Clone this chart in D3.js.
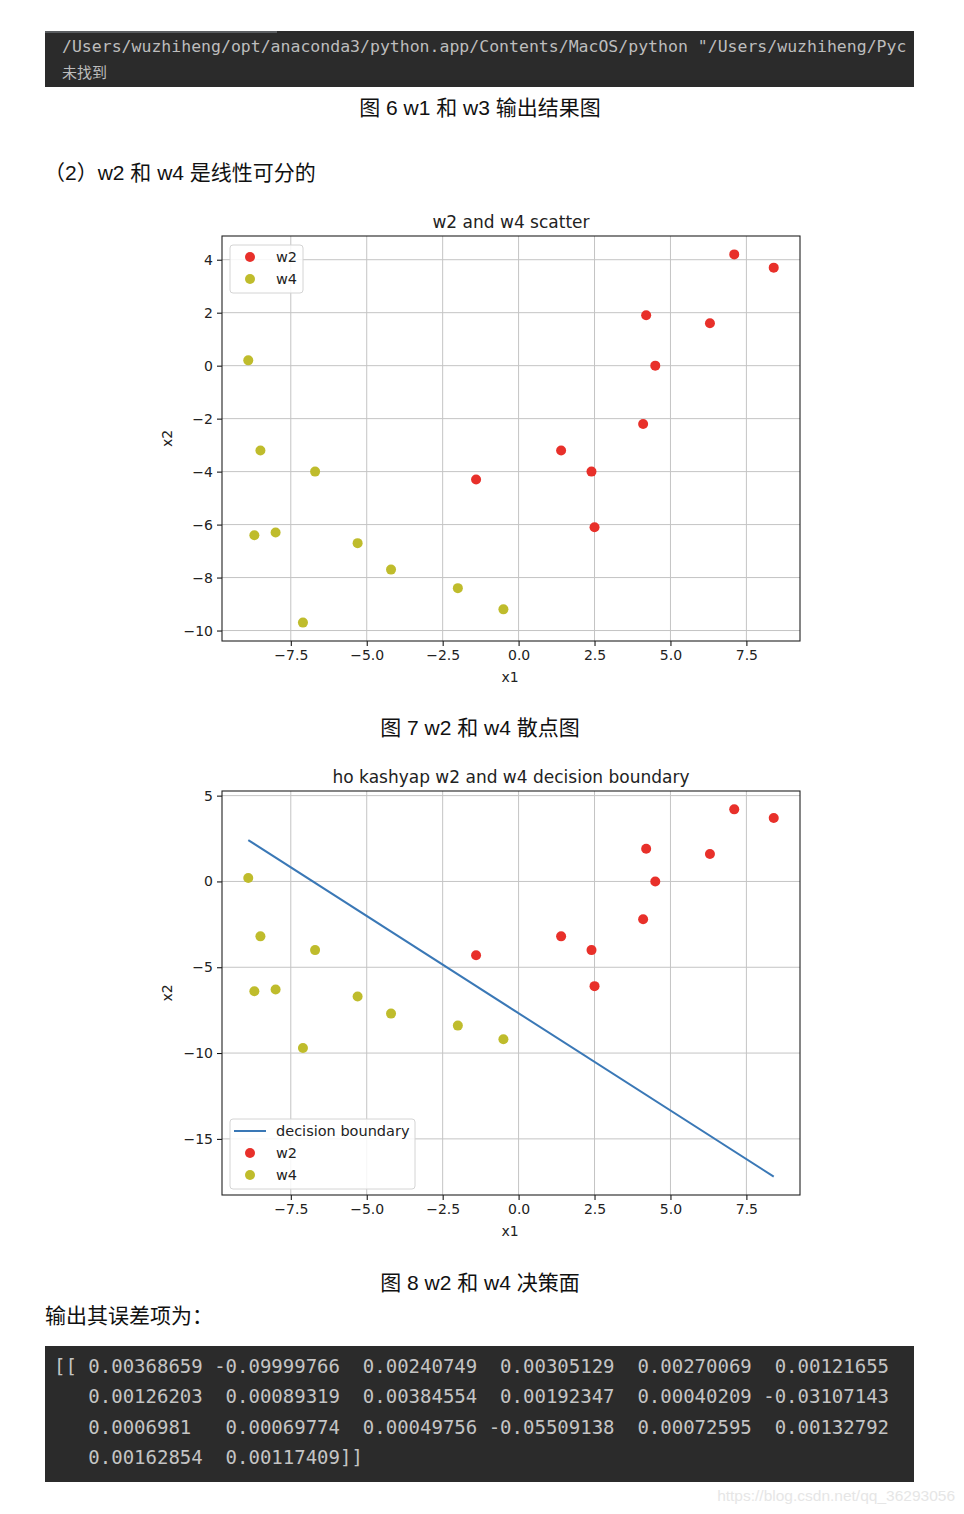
<!DOCTYPE html>
<html>
<head>
<meta charset="utf-8">
<script src="https://cdn.jsdelivr.net/npm/d3@7"></script>
<style>
  body { margin: 0; background: #fff; }
  svg { display: block; }
</style>
</head>
<body>
<script>
// w2 / w4 sample points (x1, x2)
const w2X = [7.1, -1.4, 4.5, 6.3, 4.2, 1.4, 2.4, 2.5, 8.4, 4.1];
const w2Y = [4.2, -4.3, 0.0, 1.6, 1.9, -3.2, -4.0, -6.1, 3.7, -2.2];
const w4X = [-2.0, -8.9, -4.2, -8.5, -6.7, -0.5, -5.3, -8.7, -7.1, -8.0];
const w4Y = [-8.4, 0.2, -7.7, -3.2, -4.0, -9.2, -6.7, -6.4, -9.7, -6.3];
// decision boundary end points
const boundaryX = [-8.9, 8.4];
const boundaryY = [2.41, -17.2];

const xTicks = [-7.5, -5.0, -2.5, 0.0, 2.5, 5.0, 7.5];
const yTicks1 = [-10, -8, -6, -4, -2, 0, 2, 4];
const yTicks2 = [-15, -10, -5, 0, 5];

const errLines = [
  "[[ 0.00368659 -0.09999766  0.00240749  0.00305129  0.00270069  0.00121655",
  "   0.00126203  0.00089319  0.00384554  0.00192347  0.00040209 -0.03107143",
  "   0.0006981   0.00069774  0.00049756 -0.05509138  0.00072595  0.00132792",
  "   0.00162854  0.00117409]]"
];

const RED = "#e8302a", OLIVE = "#bfbc2c", BLUE = "#3a78b6";
const cjk = "'Liberation Sans', 'Noto Sans CJK SC', sans-serif";
const mono = "'DejaVu Sans Mono', 'Liberation Mono', monospace";
const mpl = "'DejaVu Sans', sans-serif";

const svg = d3.select("body").append("svg")
    .attr("width", 964)
    .attr("height", 1514);

// top console block
svg.append("rect").attr("x", 45).attr("y", 31).attr("width", 869).attr("height", 56).attr("fill", "#2b2b2b");
svg.append("rect").attr("x", 45).attr("y", 31).attr("width", 232).attr("height", 2).attr("fill", "#5a5d60");
svg.append("text").attr("x", 62).attr("y", 52)
    .style("font-family", mono).style("font-size", "16.5px").attr("fill", "#bdbdbd")
    .attr("xml:space", "preserve")
    .text('/Users/wuzhiheng/opt/anaconda3/python.app/Contents/MacOS/python "/Users/wuzhiheng/Pyc');
svg.append("text").attr("x", 62).attr("y", 78)
    .style("font-family", "'Noto Sans CJK SC', sans-serif").style("font-size", "15px").attr("fill", "#bdbdbd")
    .text("未找到");

function caption(txt, x, y, anchor) {
  svg.append("text").attr("x", x).attr("y", y)
     .attr("text-anchor", anchor)
     .style("font-family", cjk).style("font-size", "21px").attr("fill", "#111")
     .text(txt);
}
caption("图 6 w1 和 w3 输出结果图", 480, 115, "middle");
caption("（2）w2 和 w4 是线性可分的", 44, 180, "start");
caption("图 7 w2 和 w4 散点图", 480, 735, "middle");
caption("图 8 w2 和 w4 决策面", 480, 1290, "middle");
caption("输出其误差项为：", 45, 1323, "start");

// shared x scale (5% margins like matplotlib)
const allX = w2X.concat(w4X);
function padded(lo, hi) {
  const r = hi - lo;
  return [lo - 0.05 * r, hi + 0.05 * r];
}
const fmtMinus = s => s.replace("-", "\u2212");

function drawChart(cfg) {
  const left = 222, right = 800;
  const x = d3.scaleLinear().domain(padded(d3.min(allX), d3.max(allX))).range([left, right]);
  const y = d3.scaleLinear().domain(cfg.yDomain).range([cfg.bottom, cfg.top]);
  const g = svg.append("g");

  // grid
  g.selectAll(".gx").data(xTicks).join("line")
    .attr("x1", d => x(d)).attr("x2", d => x(d))
    .attr("y1", cfg.top).attr("y2", cfg.bottom)
    .attr("stroke", "#c4c4c4").attr("stroke-width", 1);
  g.selectAll(".gy").data(cfg.yTicks).join("line")
    .attr("x1", left).attr("x2", right)
    .attr("y1", d => y(d)).attr("y2", d => y(d))
    .attr("stroke", "#c4c4c4").attr("stroke-width", 1);

  // axes
  g.append("g").attr("transform", `translate(0,${cfg.bottom})`)
    .call(d3.axisBottom(x).tickValues(xTicks).tickSize(5).tickPadding(4)
      .tickFormat(d => fmtMinus(d3.format(".1f")(d))))
    .call(a => a.select(".domain").remove())
    .call(a => a.selectAll("text").style("font-family", mpl).style("font-size", "14px").attr("fill", "#222"));
  g.append("g").attr("transform", `translate(${left},0)`)
    .call(d3.axisLeft(y).tickValues(cfg.yTicks).tickSize(5).tickPadding(4)
      .tickFormat(d => fmtMinus(d3.format("d")(d))))
    .call(a => a.select(".domain").remove())
    .call(a => a.selectAll("text").style("font-family", mpl).style("font-size", "14px").attr("fill", "#222"));

  g.append("rect").attr("x", left).attr("y", cfg.top)
    .attr("width", right - left).attr("height", cfg.bottom - cfg.top)
    .attr("fill", "none").attr("stroke", "#222").attr("stroke-width", 1.1);

  // labels
  g.append("text").attr("x", (left + right) / 2).attr("y", cfg.top - 8)
    .attr("text-anchor", "middle").style("font-family", mpl).style("font-size", "17px").attr("fill", "#222")
    .text(cfg.title);
  g.append("text").attr("x", (left + right) / 2 - 1).attr("y", cfg.bottom + 41)
    .attr("text-anchor", "middle").style("font-family", mpl).style("font-size", "14px").attr("fill", "#222")
    .text("x1");
  g.append("text")
    .attr("transform", `translate(172,${(cfg.top + cfg.bottom) / 2}) rotate(-90)`)
    .attr("text-anchor", "middle").style("font-family", mpl).style("font-size", "14px").attr("fill", "#222")
    .text("x2");

  // boundary line
  if (cfg.line) {
    g.append("path")
      .datum(d3.zip(boundaryX, boundaryY))
      .attr("d", d3.line().x(d => x(d[0])).y(d => y(d[1])))
      .attr("fill", "none").attr("stroke", BLUE).attr("stroke-width", 2);
  }

  // points
  g.selectAll(".p2").data(d3.zip(w2X, w2Y)).join("circle")
    .attr("cx", d => x(d[0])).attr("cy", d => y(d[1])).attr("r", 5).attr("fill", RED);
  g.selectAll(".p4").data(d3.zip(w4X, w4Y)).join("circle")
    .attr("cx", d => x(d[0])).attr("cy", d => y(d[1])).attr("r", 5).attr("fill", OLIVE);

  // legend
  const lg = g.append("g").attr("transform", `translate(230,${cfg.legendY})`);
  const items = cfg.line
    ? [["line", "decision boundary"], [RED, "w2"], [OLIVE, "w4"]]
    : [[RED, "w2"], [OLIVE, "w4"]];
  lg.append("rect").attr("width", cfg.line ? 185 : 73).attr("height", items.length * 22 + 4)
    .attr("rx", 3).attr("fill", "#fff").attr("fill-opacity", 0.85)
    .attr("stroke", "#d4d4d4");
  items.forEach((it, i) => {
    const cy = 12 + i * 22;
    if (it[0] === "line") {
      lg.append("line").attr("x1", 4).attr("x2", 36).attr("y1", cy).attr("y2", cy)
        .attr("stroke", BLUE).attr("stroke-width", 2);
    } else {
      lg.append("circle").attr("cx", 20).attr("cy", cy).attr("r", 5).attr("fill", it[0]);
    }
    lg.append("text").attr("x", 46).attr("y", cy + 5)
      .style("font-family", mpl).style("font-size", "14.5px").attr("fill", "#222")
      .text(it[1]);
  });
}

drawChart({
  title: "w2 and w4 scatter",
  top: 236, bottom: 641,
  yDomain: padded(d3.min(w2Y.concat(w4Y)), d3.max(w2Y.concat(w4Y))),
  yTicks: yTicks1,
  legendY: 245,
  line: false
});
drawChart({
  title: "ho kashyap w2 and w4 decision boundary",
  top: 791, bottom: 1195,
  yDomain: padded(d3.min(w2Y.concat(w4Y, boundaryY)), d3.max(w2Y.concat(w4Y, boundaryY))),
  yTicks: yTicks2,
  legendY: 1119,
  line: true
});

// bottom console block
svg.append("rect").attr("x", 45).attr("y", 1346).attr("width", 869).attr("height", 136).attr("fill", "#2b2b2b");
svg.selectAll(".err").data(errLines).join("text")
  .attr("x", 54).attr("y", (d, i) => 1373 + i * 30.3)
  .attr("xml:space", "preserve")
  .style("font-family", mono).style("font-size", "19px").attr("fill", "#c4c4c4")
  .text(d => d);

// watermark
svg.append("text").attr("x", 955).attr("y", 1501).attr("text-anchor", "end")
  .style("font-family", "'Liberation Sans', Arial, sans-serif").style("font-size", "15.5px").attr("fill", "#e6e6e6")
  .text("https://blog.csdn.net/qq_36293056");
</script>
</body>
</html>
